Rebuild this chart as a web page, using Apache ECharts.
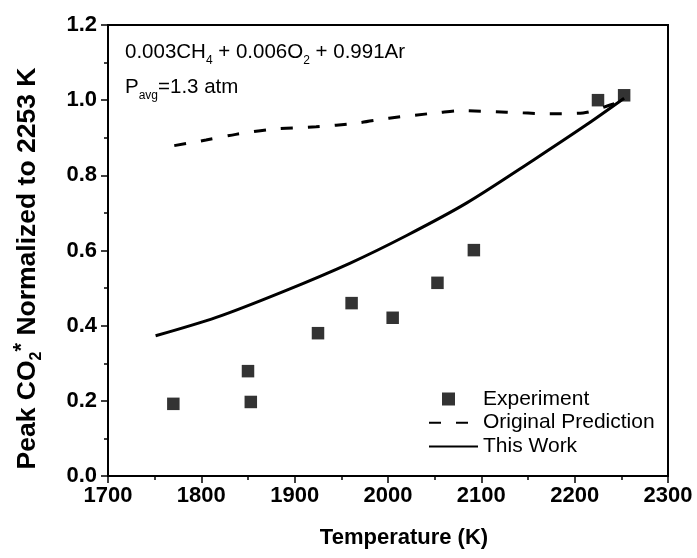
<!DOCTYPE html>
<html>
<head>
<meta charset="utf-8">
<script src="https://cdn.jsdelivr.net/npm/echarts@6/dist/echarts.min.js"></script>
<style>html,body{margin:0;padding:0;background:#fff}#c{width:697px;height:558px}</style>
</head>
<body>
<div id="c"></div>
<script>
// Experiment (squares)
const expT = [1770, 1850, 1853, 1925, 1961, 2005, 2053, 2092, 2225, 2253];
const expV = [0.192, 0.279, 0.197, 0.380, 0.460, 0.421, 0.514, 0.601, 1.000, 1.013];
// Original Prediction (dashed)
const origT = [1771, 1805, 1837, 1877, 1923, 1966, 2001, 2055, 2077, 2127, 2173, 2209, 2238, 2253];
const origV = [0.879, 0.894, 0.909, 0.923, 0.929, 0.939, 0.952, 0.967, 0.972, 0.968, 0.964, 0.966, 0.987, 1.000];
// This Work (solid)
const workT = [1751, 1816, 1887, 1959, 2020, 2084, 2156, 2213, 2253];
const workV = [0.373, 0.422, 0.490, 0.566, 0.640, 0.726, 0.841, 0.935, 1.005];

const xTicks = [1700, 1800, 1900, 2000, 2100, 2200, 2300];
const yTicks = [0.0, 0.2, 0.4, 0.6, 0.8, 1.0, 1.2];

const zip = (a, b) => a.map((v, i) => [v, b[i]]);
const FONT = '"Liberation Sans", Arial, sans-serif';

const chart = echarts.init(document.getElementById('c'), null, {renderer: 'canvas'});
chart.setOption({
  animation: false,
  textStyle: {fontFamily: FONT, color: '#000'},
  grid: {left: 108, right: 29, top: 25, bottom: 82, show: true, borderColor: '#000', borderWidth: 2, backgroundColor: 'transparent'},
  xAxis: {
    type: 'value', min: xTicks[0], max: xTicks[xTicks.length - 1], interval: 100,
    axisLine: {show: true, lineStyle: {color: '#000', width: 2}},
    axisTick: {show: true, length: 7, inside: false, lineStyle: {color: '#000', width: 1.5}},
    minorTick: {show: true, splitNumber: 2, length: 4, lineStyle: {color: '#000', width: 1.5}},
    splitLine: {show: false},
    axisLabel: {fontFamily: FONT, fontWeight: 'bold', fontSize: 22, color: '#000', margin: 9,
      formatter: v => String(v)},
    name: 'Temperature (K)', nameLocation: 'middle', nameGap: 51,
    nameTextStyle: {fontFamily: FONT, fontWeight: 'bold', fontSize: 22, color: '#000', padding: [0, 0, 0, 32]}
  },
  yAxis: {
    type: 'value', min: 0, max: 1.2, interval: 0.2,
    axisLine: {show: true, lineStyle: {color: '#000', width: 2}},
    axisTick: {show: true, length: 7, inside: false, lineStyle: {color: '#000', width: 1.5}},
    minorTick: {show: true, splitNumber: 2, length: 4, lineStyle: {color: '#000', width: 1.5}},
    splitLine: {show: false},
    axisLabel: {fontFamily: FONT, fontWeight: 'bold', fontSize: 22, color: '#000', margin: 11,
      formatter: v => v.toFixed(1)},
    name: '{a|Peak CO}{sub|2}{sup|*}{a| Normalized to 2253 K}', nameLocation: 'middle', nameGap: 63,
    nameTextStyle: {
      fontFamily: FONT, fontWeight: 'bold', fontSize: 26, color: '#000', padding: [0, 36, 0, 0],
      rich: {
        a: {fontFamily: FONT, fontWeight: 'bold', fontSize: 26.5, color: '#000', lineHeight: 34, verticalAlign: 'middle'},
        sub: {fontFamily: FONT, fontWeight: 'bold', fontSize: 16, color: '#000', lineHeight: 15, verticalAlign: 'bottom'},
        sup: {fontFamily: FONT, fontWeight: 'bold', fontSize: 22, color: '#000', lineHeight: 21, verticalAlign: 'top'}
      }
    }
  },
  legend: {
    orient: 'vertical', left: 428, top: 388, padding: 0, itemWidth: 49, itemHeight: 13, itemGap: 1.7,
    textStyle: {fontFamily: FONT, fontSize: 21, color: '#000', lineHeight: 22},
    data: [
      {name: 'Experiment', icon: 'path://M0,0M49,13M13,0h13v13h-13z', itemStyle: {color: '#000'}},
      {name: 'Original Prediction', itemStyle: {opacity: 0}},
      {name: 'This Work', itemStyle: {opacity: 0}}
    ]
  },
  graphic: [
    {type: 'text', left: 125, top: 42, style: {
      text: '{a|0.003CH}{s|4}{a| + 0.006O}{s|2}{a| + 0.991Ar}',
      rich: {
        a: {fontFamily: FONT, fontSize: 20.5, fill: '#000', lineHeight: 28, verticalAlign: 'middle'},
        s: {fontFamily: FONT, fontSize: 12, fill: '#000', lineHeight: 12, verticalAlign: 'bottom'}
      }}},
    {type: 'text', left: 125, top: 77, style: {
      text: '{a|P}{s|avg}{a|=1.3 atm}',
      rich: {
        a: {fontFamily: FONT, fontSize: 20.5, fill: '#000', lineHeight: 28, verticalAlign: 'middle'},
        s: {fontFamily: FONT, fontSize: 12, fill: '#000', lineHeight: 12, verticalAlign: 'bottom'}
      }}}
  ],
  series: [
    {
      name: 'Experiment', type: 'scatter', symbol: 'rect', symbolSize: 12.5,
      itemStyle: {color: '#000'}, data: zip(expT, expV), z: 5
    },
    {
      name: 'Original Prediction', type: 'line', smooth: 0.3, showSymbol: false, symbol: 'none',
      lineStyle: {color: '#000', width: 3, type: [12, 15]}, itemStyle: {color: '#000'},
      data: zip(origT, origV)
    },
    {
      name: 'This Work', type: 'line', smooth: 0.3, showSymbol: false, symbol: 'none',
      lineStyle: {color: '#000', width: 3}, itemStyle: {color: '#000'},
      data: zip(workT, workV)
    }
  ]
});
</script>
</body>
</html>
